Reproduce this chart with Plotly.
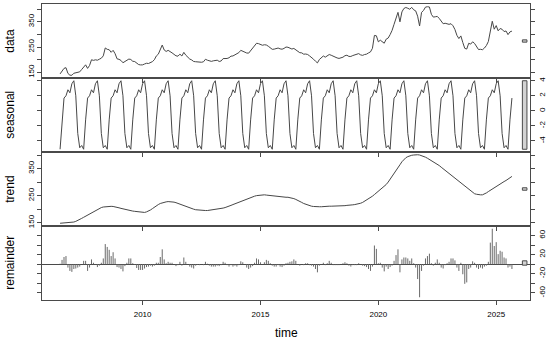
import plotly.graph_objects as go
from plotly.subplots import make_subplots

# ---------------- data (monthly, Jul 2006 .. Sep 2025) ----------------
start_year = 2006
start_month = 7

seasonal = [
    -5.1, -1.2, 1.7, 2.0, 2.8, 2.4,                                   # 2006 Jul-Dec
    3.6, 4.0, 2.0, -3.0, -4.9, -4.6, -5.1, -1.2, 1.7, 2.0, 2.8, 2.4,  # 2007
    3.6, 4.0, 2.0, -3.0, -4.9, -4.6, -5.1, -1.2, 1.7, 2.0, 2.8, 2.4,  # 2008
    3.6, 4.0, 2.0, -3.0, -4.9, -4.6, -5.1, -1.2, 1.7, 2.0, 2.8, 2.4,  # 2009
    3.6, 4.0, 2.0, -3.0, -4.9, -4.6, -5.1, -1.2, 1.7, 2.0, 2.8, 2.4,  # 2010
    3.6, 4.0, 2.0, -3.0, -4.9, -4.6, -5.1, -1.2, 1.7, 2.0, 2.8, 2.4,  # 2011
    3.6, 4.0, 2.0, -3.0, -4.9, -4.6, -5.1, -1.2, 1.7, 2.0, 2.8, 2.4,  # 2012
    3.6, 4.0, 2.0, -3.0, -4.9, -4.6, -5.1, -1.2, 1.7, 2.0, 2.8, 2.4,  # 2013
    3.6, 4.0, 2.0, -3.0, -4.9, -4.6, -5.1, -1.2, 1.7, 2.0, 2.8, 2.4,  # 2014
    3.6, 4.0, 2.0, -3.0, -4.9, -4.6, -5.1, -1.2, 1.7, 2.0, 2.8, 2.4,  # 2015
    3.6, 4.0, 2.0, -3.0, -4.9, -4.6, -5.1, -1.2, 1.7, 2.0, 2.8, 2.4,  # 2016
    3.6, 4.0, 2.0, -3.0, -4.9, -4.6, -5.1, -1.2, 1.7, 2.0, 2.8, 2.4,  # 2017
    3.6, 4.0, 2.0, -3.0, -4.9, -4.6, -5.1, -1.2, 1.7, 2.0, 2.8, 2.4,  # 2018
    3.6, 4.0, 2.0, -3.0, -4.9, -4.6, -5.1, -1.2, 1.7, 2.0, 2.8, 2.4,  # 2019
    3.6, 4.0, 2.0, -3.0, -4.9, -4.6, -5.1, -1.2, 1.7, 2.0, 2.8, 2.4,  # 2020
    3.6, 4.0, 2.0, -3.0, -4.9, -4.6, -5.1, -1.2, 1.7, 2.0, 2.8, 2.4,  # 2021
    3.6, 4.0, 2.0, -3.0, -4.9, -4.6, -5.1, -1.2, 1.7, 2.0, 2.8, 2.4,  # 2022
    3.6, 4.0, 2.0, -3.0, -4.9, -4.6, -5.1, -1.2, 1.7, 2.0, 2.8, 2.4,  # 2023
    3.6, 4.0, 2.0, -3.0, -4.9, -4.6, -5.1, -1.2, 1.7, 2.0, 2.8, 2.4,  # 2024
    3.6, 4.0, 2.0, -3.0, -4.9, -4.6, -5.1, -1.2, 1.7,                 # 2025 Jan-Sep
]

trend = [
    148, 148.5, 149, 149.5, 150, 150.5,                               # 2006 Jul-Dec
    151, 152.5, 155, 158, 162, 166, 170, 174, 178, 182, 187, 192,     # 2007
    196, 200, 203, 206, 208, 209, 210, 210.5, 210.5, 210, 209, 207,   # 2008
    205, 203, 201, 199, 197, 195, 194, 193, 192, 191, 190, 189,       # 2009
    188, 188, 190, 193, 197, 202, 208, 213, 217, 221, 224, 226,       # 2010
    227, 228, 228, 227, 226, 224, 221, 218, 216, 213, 210, 207,       # 2011
    204, 202, 200, 198, 197, 196, 195, 195, 195, 195, 196, 196,       # 2012
    197, 198, 199, 200, 202, 204, 206, 208, 211, 214, 217, 220,       # 2013
    223, 226, 229, 232, 235, 238, 241, 244, 246, 248, 250, 251,       # 2014
    252, 253, 253, 252, 251, 250, 249, 248, 247, 246, 245, 245,       # 2015
    244, 244, 244, 243, 241, 239, 236, 233, 229, 225, 221, 218,       # 2016
    215, 213, 211, 210, 209, 209, 209, 209, 210, 210, 211, 211,       # 2017
    211, 211, 211, 212, 212, 212, 213, 213, 214, 214, 215, 216,       # 2018
    217, 218, 220, 222, 225, 229, 233, 238, 243, 248, 254, 260,       # 2019
    265, 270, 276, 283, 291, 300, 310, 320, 331, 342, 353, 364,       # 2020
    375, 384, 390, 394, 397, 399, 400, 401, 401, 400, 398, 395,       # 2021
    392, 388, 384, 380, 376, 371, 366, 361, 355, 349, 343, 337,       # 2022
    331, 326, 320, 314, 308, 302, 296, 290, 284, 278, 272, 266,       # 2023
    261, 257, 255, 253, 253, 253, 256, 260, 265, 270, 275, 280,       # 2024
    285, 289, 293, 297, 302, 306, 311, 316, 321,                      # 2025 Jan-Sep
]

remainder = [
    1, 9, 15, 17, -7, -14,                                            # 2006 Jul-Dec
    -16, -10, -9, -7, -5, 0, 7, 7, -14, -7, 10, 3,                    # 2007
    0, -6, -3, 3, 12, 42, 36, 30, 17, 25, 12, -6,                     # 2008
    -7, -10, -15, -4, 3, 12, 12, 2, -1, -8, -12, -12,                 # 2009
    -12, -9, -6, -5, -3, -5, -3, 3, 3, 15, 31, 10,                    # 2010
    2, 5, 3, 3, 0, -4, -2, 5, -3, 14, 5, 0,                           # 2011
    -5, -7, -9, -3, -1, -2, 0, -2, 5, 1, -3, -5,                      # 2012
    -5, -5, -3, -4, -2, 5, 3, -2, -5, -2, -5, -3,                     # 2013
    -5, -2, 6, 4, 0, -7, -10, -7, -4, 3, 12, 10,                      # 2014
    4, 0, 4, 9, 7, 2, -3, -5, -5, -2, -5, -6,                         # 2015
    -3, 2, 3, 5, 6, 10, 7, 0, -3, 0, -2, 2,                           # 2016
    2, -2, -3, -5, -10, -17, -3, 0, 3, -2, 2, 7,                      # 2017
    3, -2, -2, -2, -2, 0, 2, 4, 2, -3, -5, -2,                        # 2018
    -2, -2, 2, 0, -3, -4, -6, -10, -14, -5, 39, 32,                   # 2019
    2, 3, -7, -15, -5, -10, -6, -3, 7, 19, 31, -17,                   # 2020
    10, 14, 14, 12, 7, 12, 2, -7, -31, -69, -14, -3,                  # 2021
    12, 17, 22, 2, -3, 3, 10, 3, -7, -9, -2, 2,                       # 2022
    5, 12, 12, 8, -7, -14, 3, -21, -41, -38, -10, -7,                 # 2023
    6, 3, -7, -10, -7, -9, -5, -3, 5, 45, 74, 38,                     # 2024
    46, 21, 28, 26, 14, 12, -7, -5, -10,                              # 2025 Jan-Sep
]

panel_names = ["data", "seasonal", "trend", "remainder"]
x_tick_years = [2010, 2015, 2020, 2025]
data_ticks = [150, 200, 250, 300, 350, 400]
data_ticktext = ["150", "", "250", "", "350", ""]
seasonal_ticks = [-4, -2, 0, 2, 4]
seasonal_ticktext = ["-4", "-2", "0", "2", "4"]
trend_ticks = [150, 200, 250, 300, 350, 400]
trend_ticktext = ["150", "", "250", "", "350", ""]
rem_ticks = [-60, -40, -20, 0, 20, 40, 60]
rem_ticktext = ["-60", "", "-20", "", "20", "", "60"]

# ---------------- derived ----------------
n = len(trend)
time = [start_year + (start_month - 1 + i) / 12 for i in range(n)]
data = [round(trend[i] + seasonal[i] + remainder[i], 1) for i in range(n)]
series = [data, seasonal, trend, remainder]

t0, t1 = time[0], time[-1]
xpad = 0.04 * (t1 - t0)
xmin, xmax = t0 - xpad, t1 + xpad

ranges = []
for s in series:
    lo, hi = min(s), max(s)
    p = 0.04 * (hi - lo)
    ranges.append((lo - p, hi + p))
mx = min(max(s) - min(s) for s in series)
dx = (xmax - xmin) / 64

LINE = "#474747"
BOX = "#4a4a4a"
FONT = "Liberation Sans, Arial, Helvetica, sans-serif"

fig = make_subplots(rows=4, cols=1, shared_xaxes=False, vertical_spacing=0)

for k in range(3):
    fig.add_trace(go.Scatter(x=time, y=series[k], mode="lines",
                             line=dict(color=LINE, width=1), hoverinfo="skip"),
                  row=k + 1, col=1)

hx, hy = [], []
for t, r in zip(time, remainder):
    hx += [t, t, None]
    hy += [0, r, None]
fig.add_trace(go.Scatter(x=hx, y=hy, mode="lines",
                         line=dict(color="#6a6a6a", width=1), hoverinfo="skip"),
              row=4, col=1)

tick_sets = [(data_ticks, data_ticktext, "left"),
             (seasonal_ticks, seasonal_ticktext, "right"),
             (trend_ticks, trend_ticktext, "left"),
             (rem_ticks, rem_ticktext, "right")]

shapes = []
for k in range(4):
    row = k + 1
    fig.update_xaxes(row=row, col=1, range=[xmin, xmax], tickvals=x_tick_years,
                     ticktext=[str(y) for y in x_tick_years],
                     ticks="outside", ticklen=4, tickcolor=BOX, tickwidth=1,
                     showline=True, linecolor=BOX, linewidth=1, mirror=True,
                     showgrid=False, zeroline=False, showticklabels=(k == 3),
                     ticklabelstandoff=2,
                     tickfont=dict(size=8, color="#000", family=FONT))
    tv, tt, side = tick_sets[k]
    fig.update_yaxes(row=row, col=1, range=list(ranges[k]), tickvals=tv, ticktext=tt,
                     side=side, tickangle=-90, ticks="outside", ticklen=4,
                     tickcolor=BOX, tickwidth=1, showline=True, linecolor=BOX,
                     linewidth=1, mirror="allticks", showgrid=False,
                     zeroline=(k == 3), zerolinecolor=BOX, zerolinewidth=1,
                     tickfont=dict(size=8, color="#000", family=FONT))
    s = series[k]
    mid = (max(s) + min(s)) / 2
    xr = "x" if k == 0 else f"x{k + 1}"
    yr = "y" if k == 0 else f"y{k + 1}"
    shapes.append(dict(type="rect", xref=xr, yref=yr,
                       x0=xmax - dx, x1=xmax - 0.4 * dx,
                       y0=mid - mx / 2, y1=mid + mx / 2,
                       fillcolor="#D3D3D3", line=dict(color=BOX, width=1),
                       layer="above"))

annotations = []
for k, name in enumerate(panel_names):
    annotations.append(dict(text=name, xref="paper", yref="paper",
                            x=-0.066, y=1 - (k + 0.5) / 4, textangle=-90,
                            showarrow=False, xanchor="center", yanchor="middle",
                            font=dict(size=12, color="#000", family=FONT)))
annotations.append(dict(text="time", xref="paper", yref="paper",
                        x=0.5, y=-0.11, showarrow=False,
                        xanchor="center", yanchor="middle",
                        font=dict(size=12, color="#000", family=FONT)))

fig.update_layout(width=550, height=339,
                  margin=dict(l=42, r=20, t=4, b=39),
                  plot_bgcolor="white", paper_bgcolor="white",
                  showlegend=False, shapes=shapes, annotations=annotations,
                  font=dict(family=FONT, color="#000"))

fig.write_html("out.html", config={"displayModeBar": False},
               post_script="document.body.style.margin='0';document.body.style.padding='0';")
